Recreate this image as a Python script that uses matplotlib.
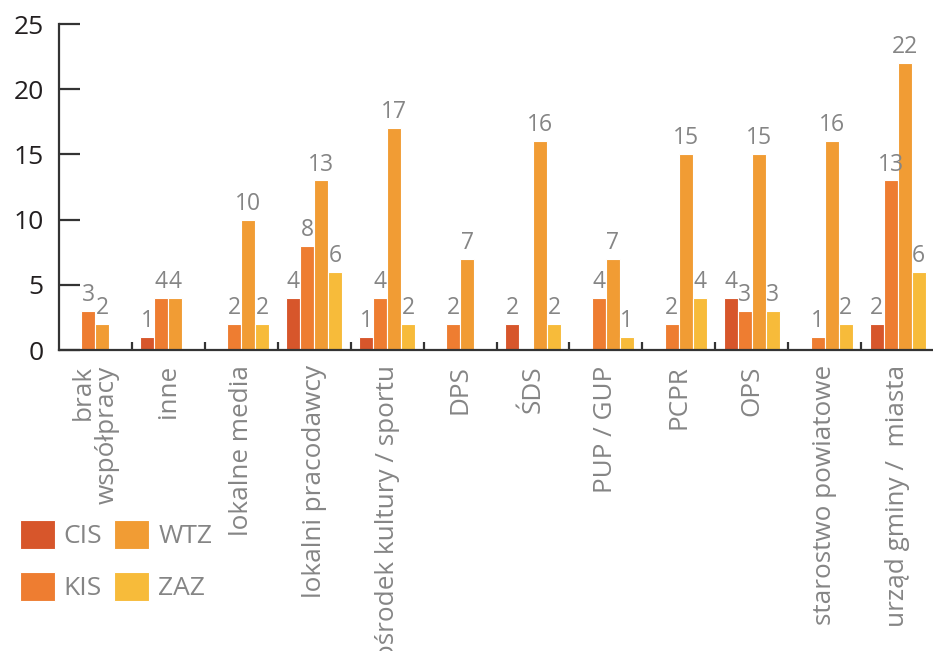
import numpy as np
import matplotlib
matplotlib.use("Agg")
import matplotlib.pyplot as plt
import matplotlib.transforms as mtransforms

categories = ["brak\nwspółpracy", "inne", "lokalne media", "lokalni pracodawcy",
              "ośrodek kultury / sportu", "DPS", "ŚDS", "PUP / GUP", "PCPR", "OPS",
              "starostwo powiatowe", "urząd gminy /  miasta"]
series = ["CIS", "KIS", "WTZ", "ZAZ"]
cis = [0, 1, 0, 4, 1, 0, 2, 0, 0, 4, 0, 2]
kis = [3, 4, 2, 8, 4, 2, 0, 4, 2, 3, 1, 13]
wtz = [2, 4, 10, 13, 17, 7, 16, 7, 15, 15, 16, 22]
zaz = [0, 0, 2, 6, 2, 0, 2, 1, 4, 3, 2, 6]
colors = ["#D7562B", "#EE7D31", "#F19C34", "#F7BB3A"]

plt.rcParams['font.family'] = ['Open Sans', 'DejaVu Sans']
gray = "#858585"

fig = plt.figure(figsize=(9.33, 6.51), dpi=100)
ax = fig.add_axes([59/933, 301/651, 875/933, 326/651])

x = np.arange(len(categories))
w = 0.192
handles = []
for i, (name, vals) in enumerate(zip(series, [cis, kis, wtz, zaz])):
    pos = x + (i - 1.5) * w
    vals = np.array(vals)
    h = ax.bar(pos, vals, width=w, color=colors[i], edgecolor="white", linewidth=0.8, label=name)
    handles.append(h)
    for p, v in zip(pos, vals):
        if v > 0:
            ax.text(p, v + 0.3, str(v), ha="center", va="bottom", fontsize=16.5, color=gray)

ax.set_xlim(-0.5, len(categories) - 0.5)
ax.set_ylim(0, 25)
ax.set_yticks([0, 5, 10, 15, 20, 25])
ax.tick_params(axis="y", direction="in", length=15, width=1.6, pad=11,
               labelsize=19, labelcolor="#231f20", color="#333333")
ax.set_xticks(x)
labels = ax.set_xticklabels(categories, rotation=90, va="top", ha="center",
                            multialignment="right", fontsize=18.8, color=gray,
                            linespacing=0.95)
# two-line label sits a bit left of its group in the original
labels[0].set_transform(labels[0].get_transform() +
                        mtransforms.ScaledTranslation(-9/100, 0, fig.dpi_scale_trans))
ax.tick_params(axis="x", which="major", length=0, pad=11)
ax.set_xticks(np.arange(0.5, len(categories) - 1), minor=True)
ax.tick_params(axis="x", which="minor", direction="in", length=6, width=1.6, color="#333333")

for s in ["top", "right"]:
    ax.spines[s].set_visible(False)
for s in ["left", "bottom"]:
    ax.spines[s].set_color("#333333")
    ax.spines[s].set_linewidth(1.6)

leg = fig.legend(handles=handles, loc="upper left", ncol=2, frameon=False,
                 bbox_to_anchor=(20/933, 1 - 520/651), borderpad=0, borderaxespad=0,
                 fontsize=19, handlelength=1.32, handleheight=1.32,
                 handletextpad=0.34, columnspacing=0.45, labelspacing=0.85)
for t in leg.get_texts():
    t.set_color(gray)

fig.savefig("out.png", dpi=100)
